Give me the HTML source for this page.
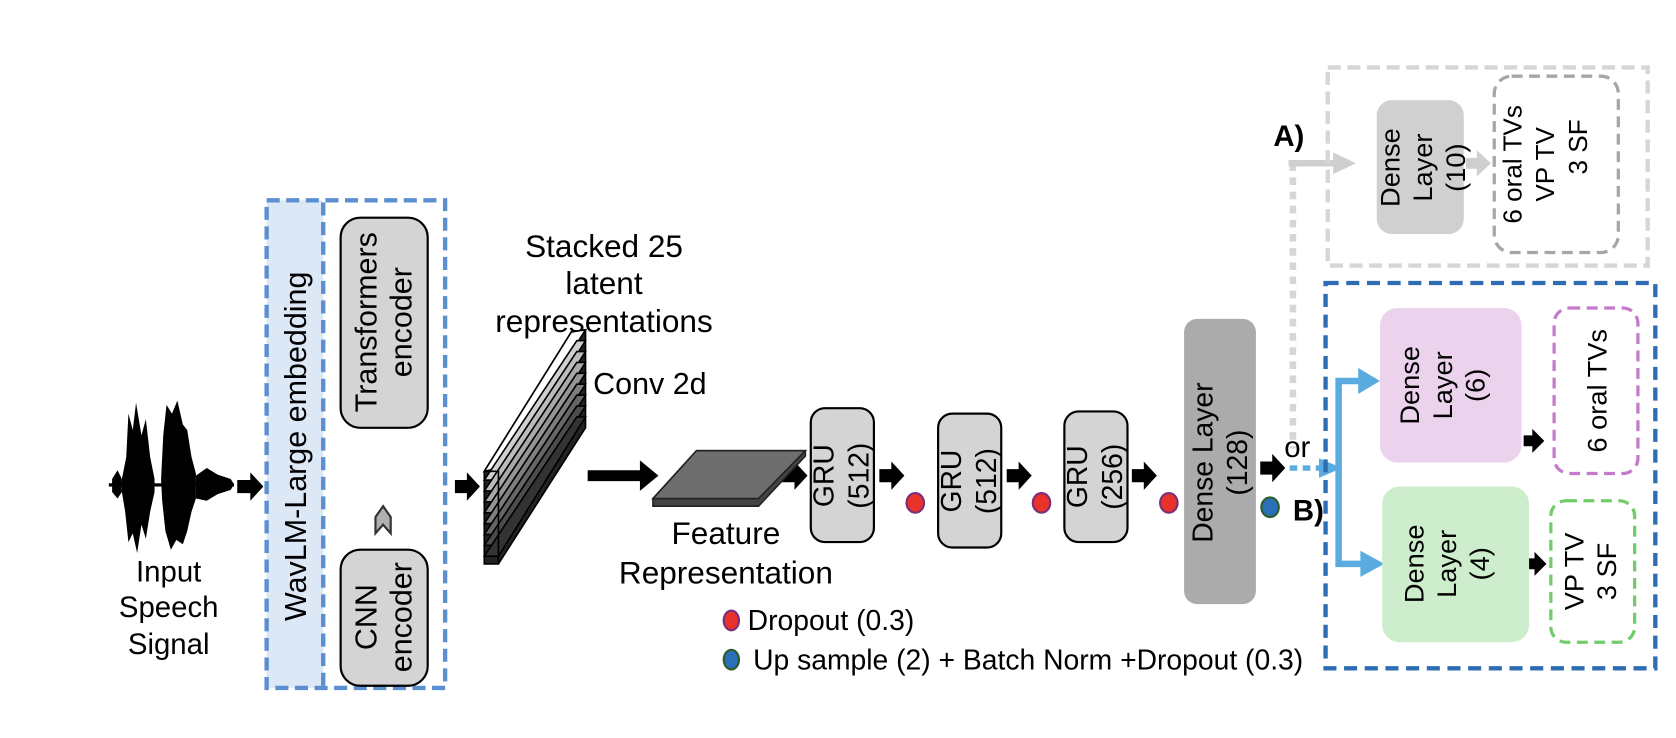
<!DOCTYPE html>
<html><head><meta charset="utf-8"><style>
html,body{margin:0;padding:0;background:#fff;}
svg{display:block;}
text{font-family:"Liberation Sans",Arial,sans-serif;fill:#000;}
</style></head><body>
<svg width="1676" height="738" viewBox="0 0 1540 678" preserveAspectRatio="none" xmlns="http://www.w3.org/2000/svg">
<!-- waveform -->
<g fill="#000">
<rect x="100" y="444" width="115" height="3"/>
<path d="M112,440 L116,420 L118,380 L122,395 L125,370 L130,400 L134,385 L138,420 L142,440 L142,452 L138,470 L134,495 L130,482 L126,508 L122,490 L118,498 L115,470 L112,452z"/>
<path d="M148,440 L150,400 L153,372 L158,380 L163,368 L168,390 L172,395 L176,420 L180,435 L180,458 L176,470 L172,488 L168,500 L162,496 L157,505 L152,488 L149,460z"/>
<path d="M180,437 L190,430 L200,436 L212,440 L215,445 L212,450 L200,454 L190,460 L180,458z"/>
<path d="M103,440 L108,432 L112,440 L112,452 L108,458 L103,452z"/>
</g>
<g fill="#000">
<path d="M218,441 h12 v-7 l12,13 l-12,13 v-7 h-12z"/>
<path d="M418,441 h11 v-7 l12,13 l-12,13 v-7 h-11z"/>
<path d="M540,432 h48 v-9 l17,14 l-17,14 v-9 h-48z"/>
<path d="M718,431 h12 v-7 l12,13 l-12,13 v-7 h-12z"/>
<path d="M808,431 h11 v-7 l12,13 l-12,13 v-7 h-11z"/>
<path d="M925,431 h11 v-7 l12,13 l-12,13 v-7 h-11z"/>
<path d="M1040,431 h11 v-7 l12,13 l-12,13 v-7 h-11z"/>
<path d="M1158,424 h11 v-7 l12,13 l-12,13 v-7 h-11z"/>
<path d="M1400,400 h8 v-6 l11,11 l-11,11 v-6 h-8z"/>
<path d="M1402,513 h8 v-6 l11,11 l-11,11 v-6 h-8z"/>
</g>
<text x="155" y="534" font-size="27" text-anchor="middle">Input</text>
<text x="155" y="567" font-size="27" text-anchor="middle">Speech</text>
<text x="155" y="601" font-size="27" text-anchor="middle">Signal</text>
<!-- WavLM box -->
<rect x="245" y="184" width="52" height="448" fill="#dde8f6"/>
<rect x="245" y="184" width="164" height="448" fill="none" stroke="#5b8fd0" stroke-width="4" stroke-dasharray="12,6"/>
<line x1="297" y1="186" x2="297" y2="630" stroke="#5b8fd0" stroke-width="4" stroke-dasharray="12,6"/>
<text transform="translate(281,410) rotate(-90)" font-size="28" text-anchor="middle">WavLM-Large embedding</text>
<rect x="313" y="200" width="80" height="193" rx="18" fill="#d4d4d4" stroke="#000" stroke-width="2"/>
<text transform="translate(346,296) rotate(-90)" font-size="28" text-anchor="middle"><tspan x="0" dy="0">Transformers</tspan><tspan x="0" dy="32">encoder</tspan></text>
<path d="M345,490 L345,475 L352,465 L359,475 L359,490 L352,482z" fill="#b0b0b0" stroke="#333" stroke-width="2"/>
<rect x="313" y="505" width="80" height="125" rx="18" fill="#d4d4d4" stroke="#000" stroke-width="2"/>
<text transform="translate(346,567) rotate(-90)" font-size="28" text-anchor="middle"><tspan x="0" dy="0">CNN</tspan><tspan x="0" dy="32">encoder</tspan></text>
<!-- stacked -->
<text x="555" y="236" font-size="29" text-anchor="middle">Stacked 25</text>
<text x="555" y="270" font-size="29" text-anchor="middle">latent</text>
<text x="555" y="305" font-size="29" text-anchor="middle">representations</text>
<g stroke="#000" stroke-width="1.5">
<path d="M445,433 L525,305 L538,303 L538,393 L458,518 L445,518z" fill="#222"/>
<path d="M445,433 L525,305 L538,303 L458,430z" fill="#fff"/>
<path d="M445,441 L530,313 L538,313 L458,441z" fill="#cfcfcf"/>
<path d="M445,451 L530,323 L538,323 L458,451z" fill="#bbb"/>
<path d="M445,461 L530,333 L538,333 L458,461z" fill="#a8a8a8"/>
<path d="M445,471 L530,343 L538,343 L458,471z" fill="#949494"/>
<path d="M445,481 L530,353 L538,353 L458,481z" fill="#7e7e7e"/>
<path d="M445,491 L530,363 L538,363 L458,491z" fill="#666"/>
<path d="M445,501 L530,373 L538,373 L458,501z" fill="#4c4c4c"/>
<path d="M445,511 L530,383 L538,383 L458,511z" fill="#333"/>
<rect x="445" y="433" width="13" height="85" fill="none"/>
</g>
<text x="545" y="362" font-size="28">Conv 2d</text>
<!-- feature plate -->
<path d="M600,458 L640,414 L740,414 L740,419 L697,465 L600,465z" fill="#444" stroke="#222" stroke-width="1.5"/>
<path d="M600,458 L640,414 L740,414 L697,458z" fill="#6e6e6e" stroke="#222" stroke-width="1.5"/>
<text x="667" y="500" font-size="29" text-anchor="middle">Feature</text>
<text x="667" y="536" font-size="29" text-anchor="middle">Representation</text>
<!-- GRUs -->
<g fill="#d4d4d4" stroke="#000" stroke-width="2">
<rect x="745" y="375" width="58" height="123" rx="13"/>
<rect x="862" y="380" width="58" height="123" rx="13"/>
<rect x="978" y="378" width="58" height="120" rx="13"/>
</g>
<g font-size="26" text-anchor="middle">
<text transform="translate(766,437) rotate(-90)"><tspan x="0">GRU</tspan><tspan x="0" dy="32">(512)</tspan></text>
<text transform="translate(883,442) rotate(-90)"><tspan x="0">GRU</tspan><tspan x="0" dy="32">(512)</tspan></text>
<text transform="translate(999,438) rotate(-90)"><tspan x="0">GRU</tspan><tspan x="0" dy="32">(256)</tspan></text>
</g>
<g fill="#e8322a" stroke="#7b2f7a" stroke-width="2">
<ellipse cx="841" cy="462" rx="8" ry="9"/>
<ellipse cx="957" cy="462" rx="8" ry="9"/>
<ellipse cx="1074" cy="462" rx="8" ry="9"/>
<ellipse cx="672" cy="570" rx="7" ry="9"/>
</g>
<g fill="#2a6fb8" stroke="#2d5d2d" stroke-width="2">
<ellipse cx="1167" cy="466" rx="8" ry="9"/>
<ellipse cx="672" cy="606" rx="7" ry="9"/>
</g>
<rect x="1088" y="293" width="66" height="262" rx="12" fill="#ababab"/>
<text transform="translate(1114,425) rotate(-90)" font-size="26" text-anchor="middle"><tspan x="0">Dense Layer</tspan><tspan x="0" dy="32">(128)</tspan></text>
<text x="687" y="579" font-size="26">Dropout (0.3)</text>
<text x="692" y="615" font-size="26">Up sample (2) + Batch Norm +Dropout (0.3)</text>
<!-- A branch -->
<line x1="1188" y1="150" x2="1188" y2="412" stroke="#d6d6d6" stroke-width="6" stroke-dasharray="7,6"/>
<line x1="1184" y1="150" x2="1228" y2="150" stroke="#cfcfcf" stroke-width="6"/>
<path d="M1225,140 L1246,150 L1225,160z" fill="#cfcfcf"/>
<text x="1170" y="134" font-size="27" font-weight="bold">A)</text>
<rect x="1220" y="62" width="294" height="182" fill="none" stroke="#d6d6d6" stroke-width="4" stroke-dasharray="12,6"/>
<rect x="1265" y="92" width="80" height="123" rx="14" fill="#d0d0d0"/>
<text transform="translate(1286,154) rotate(-90)" font-size="25" text-anchor="middle"><tspan x="0">Dense</tspan><tspan x="0" dy="30">Layer</tspan><tspan x="0" dy="30">(10)</tspan></text>
<path d="M1347,145 h10 v-7 l13,12 l-13,12 v-7 h-10z" fill="#cfcfcf"/>
<rect x="1373" y="70" width="114" height="162" rx="16" fill="none" stroke="#a6a6a6" stroke-width="3" stroke-dasharray="10,6"/>
<text transform="translate(1398,151) rotate(-90)" font-size="24" text-anchor="middle"><tspan x="0">6 oral TVs</tspan><tspan x="0" dy="30">VP TV</tspan><tspan x="16" dy="30">3 SF</tspan></text>
<!-- B branch -->
<text x="1180" y="420" font-size="27">or</text>
<text x="1188" y="478" font-size="27" font-weight="bold">B)</text>
<line x1="1185" y1="430" x2="1215" y2="430" stroke="#5aace0" stroke-width="5" stroke-dasharray="7,5"/>
<path d="M1212,421 L1233,430 L1212,439z" fill="#5aace0"/>
<rect x="1218" y="260" width="303" height="354" fill="none" stroke="#2e6db4" stroke-width="4" stroke-dasharray="12,7"/>
<path d="M1230,432 L1230,350 L1250,350" fill="none" stroke="#5aace0" stroke-width="6"/>
<path d="M1248,338 L1268,350 L1248,362z" fill="#5aace0"/>
<path d="M1230,430 L1230,518 L1252,518" fill="none" stroke="#5aace0" stroke-width="6"/>
<path d="M1250,506 L1272,518 L1250,530z" fill="#5aace0"/>
<rect x="1268" y="283" width="130" height="142" rx="16" fill="#ecd3ed"/>
<text transform="translate(1304,354) rotate(-90)" font-size="25" text-anchor="middle"><tspan x="0">Dense</tspan><tspan x="0" dy="30">Layer</tspan><tspan x="0" dy="30">(6)</tspan></text>
<rect x="1428" y="283" width="77" height="152" rx="14" fill="none" stroke="#c57acb" stroke-width="3" stroke-dasharray="10,6"/>
<text transform="translate(1476,359) rotate(-90)" font-size="25" text-anchor="middle">6  oral TVs</text>
<rect x="1270" y="447" width="135" height="143" rx="16" fill="#cdedcc"/>
<text transform="translate(1308,518) rotate(-90)" font-size="25" text-anchor="middle"><tspan x="0">Dense</tspan><tspan x="0" dy="30">Layer</tspan><tspan x="0" dy="30">(4)</tspan></text>
<rect x="1425" y="460" width="77" height="130" rx="14" fill="none" stroke="#72cc6a" stroke-width="3" stroke-dasharray="10,6"/>
<text transform="translate(1455,525) rotate(-90)" font-size="25" text-anchor="middle"><tspan x="0">VP TV</tspan><tspan x="0" dy="30">3 SF</tspan></text>
</svg>
</body></html>
